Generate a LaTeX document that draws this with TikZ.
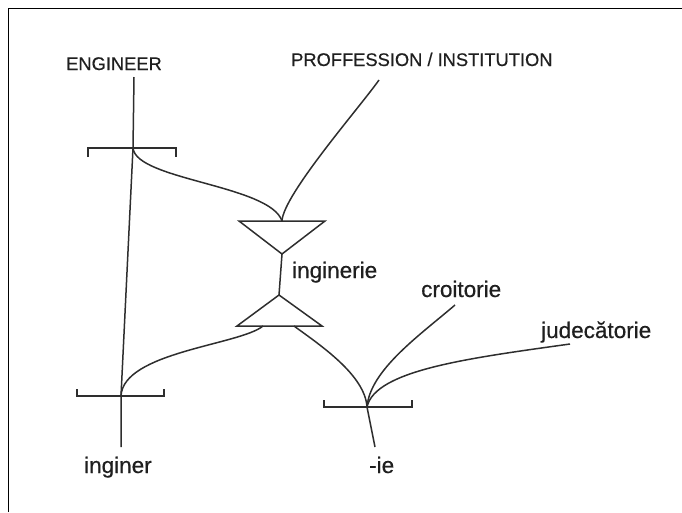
\documentclass[tikz,border=0pt]{standalone}
\usepackage{fontspec}
\setmainfont{Liberation Sans}
\newfontfamily\lblfont{Liberation Sans}[FakeBold=0.5]
\begin{document}
\begin{tikzpicture}[x=1pt,y=-1pt,
  ink/.style={draw=black!82,line width=1.5pt},
  capslabel/.style={anchor=base west,inner sep=0pt,font=\lblfont\fontsize{18.3}{20}\selectfont,text=black!88},
  wordlabel/.style={anchor=base west,inner sep=0pt,font=\lblfont\fontsize{22.5}{24}\selectfont,text=black!88},
  bracket/.style={ink,line join=miter}]
\useasboundingbox (0,0) rectangle (682,512);
% frame along the top and left edges
\draw[line width=1.8pt] (8.5,512) -- (8.5,8.5) -- (682,8.5);

% labels
\node[capslabel] (eng) at (66,70) {ENGINEER};
\node[capslabel] (prof) at (291,66) {PROFFESSION / INSTITUTION};
\node[wordlabel] (ingrie) at (292,278) {inginerie};
\node[wordlabel] (croit) at (421,297) {croitorie};
\node[wordlabel] (judec) at (541,338) {judecătorie};
\node[wordlabel] (ingr) at (84,473) {inginer};
\node[wordlabel] (suff) at (369,473) {-ie};

% junction points
\coordinate (engfoot) at (134,77);
\coordinate (profend) at (379,80);
\coordinate (croitend) at (455,305);
\coordinate (judecend) at (570,344);
\coordinate (ub) at (133,148);
\coordinate (lb) at (121,396);
\coordinate (rb) at (367,407);
\coordinate (lbfoot) at (121,447);
\coordinate (rbfoot) at (375,447);

% upper bracket (ticks downwards)
\draw[bracket] (88,157) -- (88,148) -- (176,148) -- (176,157);
% lower left bracket (ticks upwards)
\draw[bracket] (77,389) -- (77,396) -- (164,396) -- (164,389);
% lower right bracket (ticks upwards)
\draw[bracket] (324,400) -- (324,407) -- (412,407) -- (412,400);

% triangles
\coordinate (t1l) at (239,221);
\coordinate (t1r) at (325,221);
\coordinate (t1a) at (282,254);
\coordinate (t1c) at (282,221);
\coordinate (t2a) at (279,295);
\coordinate (t2l) at (237,326);
\coordinate (t2r) at (322,326);
\coordinate (t2bl) at (263,326);
\coordinate (t2br) at (294,326);
\draw[ink,line join=miter] (t1l) -- (t1r) -- (t1a) -- cycle;
\draw[ink,line join=miter] (t2l) -- (t2r) -- (t2a) -- cycle;
\draw[ink] (t1a) -- (t2a);

% connectors
\draw[ink] (engfoot) -- (ub) -- (lb) -- (lbfoot);
\draw[ink] (ub) .. controls (136,180) and (270,185) .. (t1c);
\draw[ink] (profend) .. controls (360,107) and (283,195) .. (t1c);
\draw[ink] (t2bl) .. controls (240,345) and (123,352) .. (lb);
\draw[ink] (t2br) .. controls (320,345) and (365,375) .. (rb);
\draw[ink] (croitend) .. controls (420,335) and (370,370) .. (rb);
\draw[ink] (judecend) .. controls (470,358) and (375,370) .. (rb);
\draw[ink] (rb) -- (rbfoot);
\end{tikzpicture}
\end{document}
